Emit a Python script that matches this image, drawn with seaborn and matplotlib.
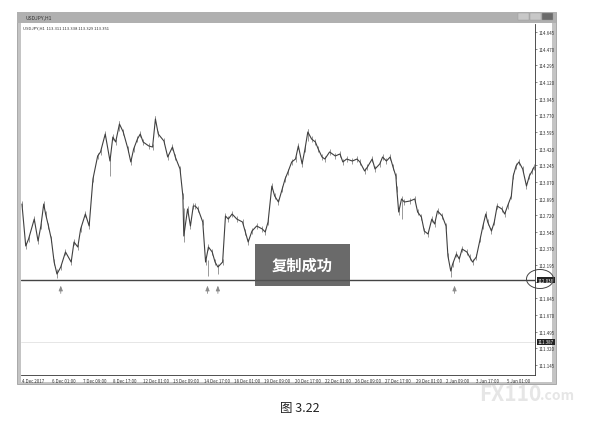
import matplotlib.pyplot as plt
import seaborn as sns
import pandas as pd
from matplotlib.patches import Rectangle, Ellipse
from matplotlib.transforms import blended_transform_factory

bars = [0, 4, 7, 13, 17, 20, 23, 25, 28, 31, 34, 37, 41, 46, 52, 55, 59, 62, 67, 71,
        75, 80, 83, 88, 93, 96, 99, 103, 107, 112, 115, 118, 122, 125, 128, 134, 138, 141, 144, 150,
        154, 159, 162, 167, 170, 171, 175, 178, 181, 183, 186, 191, 194, 197, 201, 204, 207, 212, 215, 218,
        222, 227, 233, 236, 239, 243, 248, 254, 257, 260, 264, 267, 271, 275, 278, 281, 285, 289, 292, 296,
        299, 302, 306, 310, 313, 317, 320, 325, 331, 336, 339, 343, 349, 354, 357, 362, 365, 370, 373, 378,
        381, 385, 389, 392, 395, 396, 398, 401, 404, 410, 415, 418, 422, 425, 429, 433, 436, 439, 444, 448,
        450, 453, 455, 459, 462, 465, 470, 473, 476, 480, 484, 487, 490, 492, 496, 499, 502, 507, 510, 513,
        517, 519, 522, 525, 529, 533, 536, 539, 541]
closes = [112.837, 112.396, 112.469, 112.679, 112.448, 112.606, 112.837, 112.732, 112.606, 112.469,
          112.227, 112.101, 112.175, 112.333, 112.227, 112.438, 112.385, 112.574, 112.732, 112.606,
          113.100, 113.342, 113.384, 113.573, 113.289, 113.541, 113.489, 113.678, 113.594, 113.415,
          113.279, 113.415, 113.520, 113.573, 113.489, 113.447, 113.436, 113.731, 113.573, 113.499,
          113.331, 113.436, 113.331, 113.205, 112.921, 112.501, 112.785, 112.606, 112.816, 112.816,
          112.785, 112.648, 112.227, 112.385, 112.333, 112.227, 112.175, 112.227, 112.711, 112.679,
          112.732, 112.679, 112.648, 112.543, 112.438, 112.553, 112.606, 112.574, 112.543, 112.648,
          113.026, 112.921, 112.858, 112.995, 113.100, 113.173, 113.279, 113.310, 113.447, 113.258,
          113.415, 113.594, 113.520, 113.489, 113.415, 113.331, 113.310, 113.384, 113.342, 113.363,
          113.279, 113.310, 113.289, 113.310, 113.279, 113.184, 113.226, 113.310, 113.205, 113.258,
          113.331, 113.289, 113.331, 113.226, 113.131, 112.995, 112.753, 112.890, 112.858, 112.869,
          112.890, 112.753, 112.700, 112.553, 112.522, 112.679, 112.627, 112.764, 112.711, 112.606,
          112.291, 112.133, 112.206, 112.312, 112.259, 112.364, 112.333, 112.280, 112.227, 112.280,
          112.469, 112.606, 112.732, 112.648, 112.553, 112.648, 112.816, 112.785, 112.732, 112.816,
          112.921, 113.131, 113.237, 113.279, 113.205, 113.026, 113.131, 113.184, 113.226]

# long shadows
spike_bars = [37, 93, 103, 141, 171, 197, 207, 302, 401, 453]
spike_lo = [112.060, 113.131, 113.600, 113.700, 112.440, 112.080, 112.100, 113.500, 112.680, 112.075]
spike_hi = [112.150, 113.300, 113.710, 113.760, 112.800, 112.250, 112.200, 113.625, 112.900, 112.180]

support_level = 112.038
ask_level = 111.387
arrow_bars = [41, 196, 207, 457]

price_ticks = [114.645, 114.470, 114.295, 114.120, 113.945, 113.770, 113.595, 113.420,
               113.245, 113.070, 112.895, 112.720, 112.545, 112.370, 112.195, 112.020,
               111.845, 111.670, 111.495, 111.320, 111.145]
date_pos = [0, 32, 64, 96, 128, 160, 192, 224, 256, 288, 320, 352, 384, 416, 448, 480, 512]
date_labels = ['4 Dec 2017', '6 Dec 01:00', '7 Dec 09:00', '8 Dec 17:00', '12 Dec 01:00',
               '13 Dec 09:00', '14 Dec 17:00', '18 Dec 01:00', '19 Dec 09:00', '20 Dec 17:00',
               '22 Dec 01:00', '26 Dec 09:00', '27 Dec 17:00', '29 Dec 01:00', '2 Jan 09:00',
               '3 Jan 17:00', '5 Jan 01:00']

df = pd.DataFrame({'bar': bars, 'close': closes})

sns.set_style('white')
plt.rcParams['font.family'] = ['Noto Sans CJK SC', 'DejaVu Sans']

W, H = 599, 427
def fx(x):
    return x / W
def fy(y):
    return 1 - y / H

fig = plt.figure(figsize=(5.99, 4.27), dpi=100)

# window frame
fig.patches.append(Rectangle((fx(17), fy(385)), fx(556) - fx(17), fy(13) - fy(385),
                             transform=fig.transFigure, fc='#c4c4c4', ec='#a0a0a0', lw=0.6, zorder=0))
fig.patches.append(Rectangle((fx(21), fy(383)), fx(552) - fx(21), fy(24) - fy(383),
                             transform=fig.transFigure, fc='white', ec='none', zorder=0.5))
fig.patches.append(Rectangle((fx(17), fy(24)), fx(556) - fx(17), fy(13) - fy(24),
                             transform=fig.transFigure, fc='#b0b0b0', ec='none', zorder=0.5))
for i, c in enumerate(['#c8c8c8', '#c8c8c8', '#6a6a6a']):
    fig.patches.append(Rectangle((fx(518 + i * 12), fy(21)), fx(11), fy(0) - fy(7),
                                 transform=fig.transFigure, fc=c, ec='#999', lw=0.3, zorder=1))
fig.text(fx(26), fy(18.5), 'USDJPY,H1', fontsize=3.6, color='#333', va='center', zorder=1)

ax = fig.add_axes([fx(21), fy(376), fx(535) - fx(21), fy(25) - fy(376)])
ax.set_zorder(2)
ax.set_facecolor('none')

ax.vlines(df['bar'], df['close'] - 0.035, df['close'] + 0.035, color='#9a9a9a', lw=0.7)
ax.vlines(spike_bars, spike_lo, spike_hi, color='#9a9a9a', lw=0.7)
sns.lineplot(data=df, x='bar', y='close', color='#404040', lw=0.8, ax=ax)

ax.axhline(support_level, color='#444444', lw=1.0)
ax.axhline(ask_level, color='#e2e2e2', lw=0.6)

for b in arrow_bars:
    ax.annotate('', xy=(b, support_level - 0.03), xytext=(b, support_level - 0.17),
                arrowprops=dict(arrowstyle='-|>,head_length=0.3,head_width=0.12',
                                color='#8a8a8a', lw=0.6))

ax.set_xlim(-1, 542)
ax.set_ylim(111.040, 114.729)
ax.set_xlabel('')
ax.set_ylabel('')

ax.yaxis.tick_right()
ax.set_yticks(price_ticks)
# the 112.020 label sits under the highlighted line price
ax.set_yticklabels(['' if abs(p - support_level) < 0.05 else f'{p:.3f}' for p in price_ticks])
ax.tick_params(axis='y', labelsize=3.2, length=1.5, width=0.4, pad=1, colors='#333')
ax.set_xticks(date_pos)
ax.set_xticklabels(date_labels, ha='left')
ax.tick_params(axis='x', labelsize=3.2, length=1.5, width=0.4, pad=1, colors='#333')

for s in ['top', 'left']:
    ax.spines[s].set_visible(False)
for s in ['right', 'bottom']:
    ax.spines[s].set_color('#333')
    ax.spines[s].set_linewidth(0.6)

trans = blended_transform_factory(ax.transAxes, ax.transData)
for lvl in [support_level, ask_level]:
    ax.text(1.006, lvl, f'{lvl:.3f}', transform=trans, fontsize=3.2, color='white',
            va='center', ha='left',
            bbox=dict(boxstyle='square,pad=0.15', fc='#222', ec='none'))

ax.text(0.003, 0.995, 'USDJPY,H1  113.311 113.338 113.329 113.351', transform=ax.transAxes,
        fontsize=3, color='#333', va='top', ha='left')

fig.patches.append(Ellipse((fx(540), fy(280)), fx(27), fy(0) - fy(19), transform=fig.transFigure,
                           fill=False, ec='#444', lw=0.7, zorder=3))

# copy toast
fig.patches.append(Rectangle((fx(255), fy(287)), fx(350) - fx(255), fy(245) - fy(287),
                             transform=fig.transFigure, fc='#555555', ec='none', alpha=0.88, zorder=3))
fig.text(fx(302.5), fy(266), '复制成功', fontsize=11, color='white', ha='center', va='center',
         weight='bold', zorder=4)

# watermark and caption
fig.text(fx(510), fy(395), 'FX110', fontsize=15, color='#e6e6e6', weight='bold',
         ha='center', va='center', zorder=-1)
fig.text(fx(557), fy(396), '.com', fontsize=10, color='#e6e6e6', weight='bold',
         ha='center', va='center', zorder=-1)
fig.text(fx(300), fy(409), '图 3.22', fontsize=9, color='#222', ha='center', va='center')

fig.savefig('out.png', dpi=100)
